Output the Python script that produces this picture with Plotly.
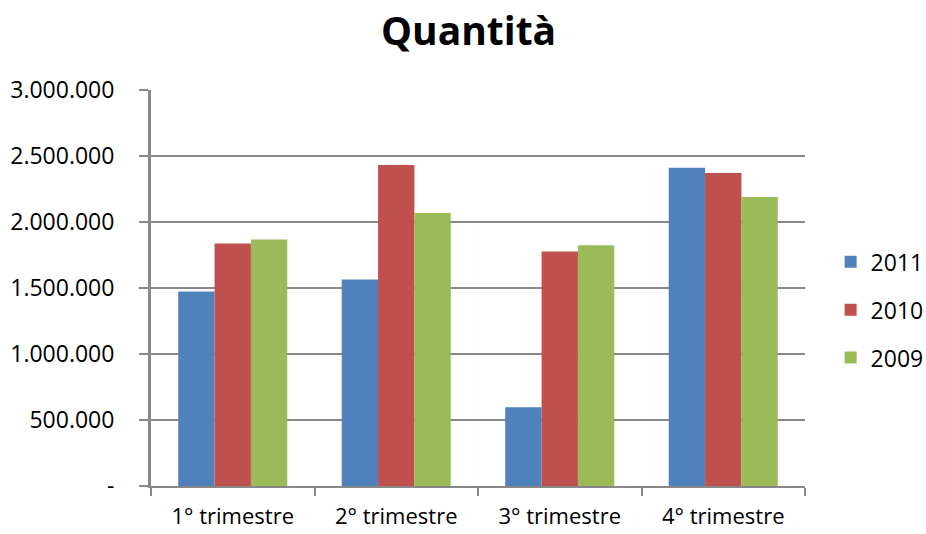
import plotly.graph_objects as go

# Quarterly quantities per year
categories = ["1° trimestre", "2° trimestre", "3° trimestre", "4° trimestre"]
years = ["2011", "2010", "2009"]
q_2011 = [1474000, 1565000, 596000, 2411000]
q_2010 = [1837000, 2432000, 1777000, 2371000]
q_2009 = [1868000, 2068000, 1823000, 2189000]
y_tickvals = [0, 500000, 1000000, 1500000, 2000000, 2500000, 3000000]
y_ticktext = ["-", "500.000", "1.000.000", "1.500.000", "2.000.000", "2.500.000", "3.000.000"]

series = [q_2011, q_2010, q_2009]
colors = ["#4F81BD", "#C0504D", "#9BBB59"]
FONT = "Open Sans"
GRID = "#888888"

fig = go.Figure()
for name, vals, col in zip(years, series, colors):
    fig.add_trace(go.Bar(
        x=categories, y=vals, name=name, legendgroup=name,
        marker=dict(color=col, line=dict(width=0)),
        showlegend=False,
    ))
    # square legend swatch
    fig.add_trace(go.Scatter(
        x=[None], y=[None], mode="markers", name=name, legendgroup=name,
        marker=dict(symbol="square", size=16, color=col),
    ))

fig.update_layout(
    width=926, height=534,
    margin=dict(l=151, r=121, t=90, b=48),
    paper_bgcolor="white", plot_bgcolor="white",
    font=dict(family=FONT, size=23, color="#000000"),
    title=dict(text="<b>Quantità</b>", font=dict(family=FONT, size=39, color="#000000"),
               x=0.506, xref="container", xanchor="center",
               y=0.942, yref="container", yanchor="middle"),
    barmode="group", bargap=0.333, bargroupgap=0,
    legend=dict(x=0.897, xref="container", xanchor="left",
                y=0.445, yanchor="middle",
                font=dict(family=FONT, size=23), tracegroupgap=15,
                bgcolor="rgba(0,0,0,0)", itemsizing="constant"),
    showlegend=True,
)
fig.update_xaxes(
    type="category", showgrid=False, showline=True, linecolor=GRID, linewidth=2,
    ticks="outside", tickson="boundaries", ticklen=8, tickwidth=2, tickcolor=GRID,
    ticklabelstandoff=10, tickfont=dict(size=22), zeroline=False, automargin=False,
)
fig.update_yaxes(
    range=[0, 3000000], autorange=False,
    tickvals=y_tickvals, ticktext=y_ticktext,
    showgrid=True, gridcolor=GRID, gridwidth=2,
    showline=True, linecolor=GRID, linewidth=3,
    ticks="outside", ticklen=9, tickwidth=2, tickcolor=GRID,
    ticklabelstandoff=20, zeroline=False, automargin=False,
)

fig.write_html("out.html")
